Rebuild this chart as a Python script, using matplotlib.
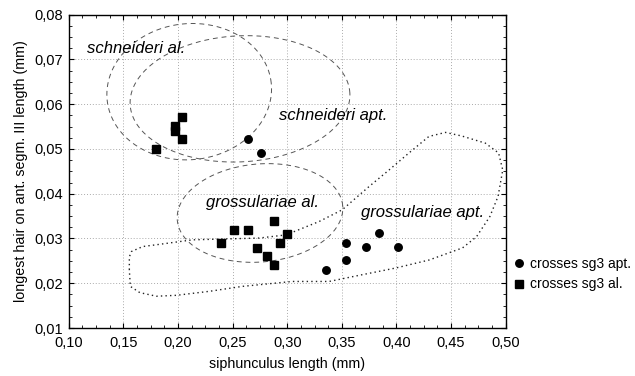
import numpy as np
import matplotlib
matplotlib.use("Agg")
import matplotlib.pyplot as plt
from matplotlib.ticker import AutoMinorLocator, FuncFormatter
from matplotlib.lines import Line2D

plt.rcParams['font.family'] = ['Liberation Sans', 'DejaVu Sans']

# ---- data -------------------------------------------------------------
apt_x = [0.2638, 0.2757, 0.3355, 0.3538, 0.3538, 0.3721, 0.3840, 0.4017]
apt_y = [0.0522, 0.0492, 0.0230, 0.0251, 0.0291, 0.0281, 0.0312, 0.0281]

al_x = [0.1799, 0.2037, 0.1976, 0.1976, 0.2037, 0.2394, 0.2516, 0.2638,
        0.2876, 0.2998, 0.2937, 0.2724, 0.2815, 0.2876]
al_y = [0.0500, 0.0572, 0.0551, 0.0540, 0.0522, 0.0289, 0.0319, 0.0319,
        0.0340, 0.0309, 0.0289, 0.0279, 0.0260, 0.0240]

# ellipses: centre x, centre y, semi-axis x, semi-axis y, tilt (deg, display)
ell_names = ['schneideri al.', 'schneideri apt.', 'grossulariae al.']
ell_cx = [0.2103, 0.2568, 0.2751]
ell_cy = [0.0628, 0.0612, 0.0357]
ell_sx = [0.0755, 0.1007, 0.0760]
ell_sy = [0.01520, 0.01408, 0.01095]
ell_tilt = [6, 3, 5]

# outline of grossulariae apt.
outline_x = [0.1555, 0.1555, 0.1575, 0.1678, 0.1833, 0.2134, 0.2442, 0.2745,
             0.2989, 0.3293, 0.3503, 0.3749, 0.3932, 0.4114, 0.4297, 0.4449,
             0.4598, 0.4814, 0.4935, 0.4973, 0.4930, 0.4855, 0.4733, 0.4605,
             0.4300, 0.3993, 0.3685, 0.3384, 0.3047, 0.2590, 0.2289, 0.1985,
             0.1803, 0.1651, 0.1564]
outline_y = [0.0230, 0.0259, 0.0271, 0.0282, 0.0287, 0.0297, 0.0299, 0.0301,
             0.0308, 0.0338, 0.0364, 0.0416, 0.0453, 0.0491, 0.0528, 0.0537,
             0.0529, 0.0513, 0.0491, 0.0453, 0.0394, 0.0349, 0.0304, 0.0279,
             0.0252, 0.0234, 0.0219, 0.0204, 0.0204, 0.0193, 0.0182, 0.0173,
             0.0171, 0.0179, 0.0193]

region_labels = ['schneideri al.', 'schneideri apt.', 'grossulariae al.', 'grossulariae apt.']
label_x = [0.117, 0.2928, 0.2259, 0.3673]
label_y = [0.0714, 0.0565, 0.0370, 0.0349]

x_ticks = [0.10, 0.15, 0.20, 0.25, 0.30, 0.35, 0.40, 0.45, 0.50]
y_ticks = [0.01, 0.02, 0.03, 0.04, 0.05, 0.06, 0.07, 0.08]

# ---- figure -----------------------------------------------------------
W, H = 635, 376
fig = plt.figure(figsize=(W / 100, H / 100), dpi=100)
ax = fig.add_axes([68.7 / W, 1 - 328 / H, (505.7 - 68.7) / W, (328 - 14.7) / H])
ax.set_xlim(0.10, 0.50)
ax.set_ylim(0.01, 0.08)

# grid
ax.set_xticks(x_ticks)
ax.set_yticks(y_ticks)
ax.grid(True, which='major', color='#aaaaaa', linestyle=(0, (1, 2)), linewidth=0.7)
ax.set_axisbelow(True)

# pixel scale for tilted ellipses
pos = ax.get_position()
kx = pos.width * W / 0.40
ky = pos.height * H / 0.07

t = np.linspace(0, 2 * np.pi, 400)
for cx, cy, sx, sy, tilt in zip(ell_cx, ell_cy, ell_sx, ell_sy, ell_tilt):
    u = sx * kx * np.cos(t)
    v = sy * ky * np.sin(t)
    th = np.deg2rad(tilt)
    U = u * np.cos(th) - v * np.sin(th)
    V = u * np.sin(th) + v * np.cos(th)
    ax.plot(cx + U / kx, cy + V / ky, color='#555555', linewidth=0.7,
            linestyle=(0, (5, 4)))

ox = list(outline_x) + [outline_x[0]]
oy = list(outline_y) + [outline_y[0]]
ax.plot(ox, oy, color='#222222', linewidth=1.0, linestyle=(0, (1, 2.3)))

ax.plot(apt_x, apt_y, linestyle='none', marker='o', markersize=5.4,
        color='black', zorder=5)
ax.plot(al_x, al_y, linestyle='none', marker='s', markersize=5.4,
        color='black', zorder=5)

for txt, lx, ly in zip(region_labels, label_x, label_y):
    ax.text(lx, ly, txt, fontsize=12, style='italic', ha='left',
            va='baseline', color='black', zorder=6)

fmt = FuncFormatter(lambda v, p: f"{v:.2f}".replace('.', ','))
ax.xaxis.set_major_formatter(fmt)
ax.yaxis.set_major_formatter(fmt)
ax.xaxis.set_minor_locator(AutoMinorLocator(4))
ax.yaxis.set_minor_locator(AutoMinorLocator(4))
ax.tick_params(which='both', direction='in', top=True, right=True,
               labelsize=10.5, color='black')
ax.tick_params(which='major', length=3.5, width=0.8)
ax.tick_params(axis='x', which='major', pad=5.5)
ax.tick_params(axis='y', which='major', pad=4)
ax.tick_params(which='minor', length=2, width=0.6)
for s in ax.spines.values():
    s.set_linewidth(1.0)

ax.set_xlabel('siphunculus length (mm)', fontsize=10.3, labelpad=5)
ax.set_ylabel('longest hair on ant. segm. III length (mm)', fontsize=10.3, labelpad=5)

handles = [Line2D([], [], linestyle='none', marker='o', markersize=5.4, color='black'),
           Line2D([], [], linestyle='none', marker='s', markersize=5.4, color='black')]
fig.legend(handles, ['crosses sg3 apt.', 'crosses sg3 al.'],
           loc='center left', bbox_to_anchor=(513 / W, 1 - 274 / H),
           frameon=False, fontsize=10, handlelength=0.8, handletextpad=0.45,
           labelspacing=0.5, borderpad=0, borderaxespad=0)

fig.savefig('out.png', dpi=100)
